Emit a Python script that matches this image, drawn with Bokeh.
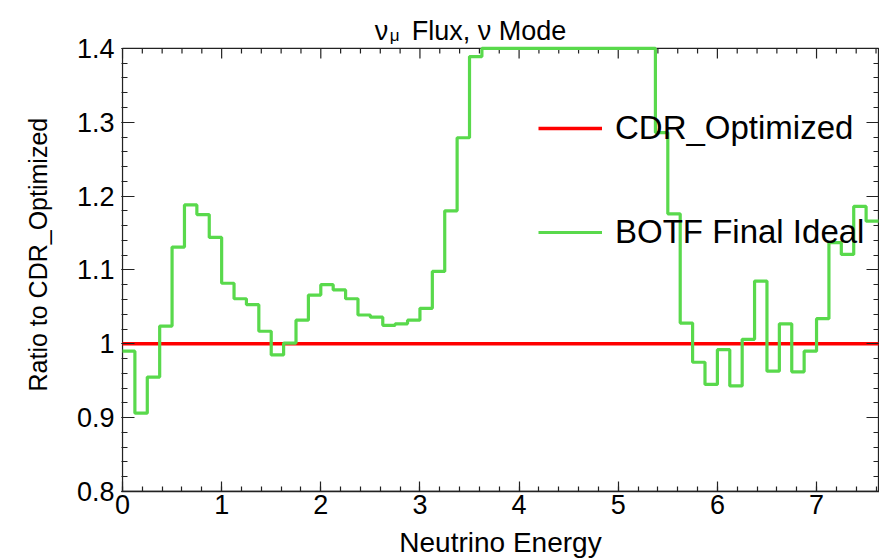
from bokeh.plotting import figure
from bokeh.models import (Range1d, Legend, LegendItem, LinearAxis,
                          FixedTicker, Title)
from bokeh.core.properties import value
from bokeh.embed import file_html
from bokeh.resources import INLINE

# ---- data ----
bin_width = 0.125
n_bins = 61
# ratio BOTF Final Ideal / CDR_Optimized per bin (bins of 0.125 starting at 0)
botf_ratio = [0.990, 0.906, 0.955, 1.024, 1.131, 1.188, 1.175, 1.144,
              1.082, 1.061, 1.053, 1.017, 0.985, 1.001, 1.032, 1.066,
              1.080, 1.073, 1.061, 1.039, 1.036, 1.025, 1.027, 1.032,
              1.048, 1.098, 1.180, 1.279, 1.389, 1.400, 1.400, 1.400,
              1.400, 1.400, 1.400, 1.400, 1.400, 1.400, 1.400, 1.400,
              1.400, 1.400, 1.400, 1.286, 1.176, 1.028, 0.975, 0.945,
              0.992, 0.943, 1.006, 1.085, 0.963, 1.027, 0.962, 0.990,
              1.034, 1.137, 1.121, 1.186, 1.166]
cdr_ratio = [1.0, 1.0, 1.0, 1.0, 1.0, 1.0, 1.0, 1.0, 1.0, 1.0, 1.0, 1.0,
             1.0, 1.0, 1.0, 1.0, 1.0, 1.0, 1.0, 1.0, 1.0, 1.0, 1.0, 1.0,
             1.0, 1.0, 1.0, 1.0, 1.0, 1.0, 1.0, 1.0, 1.0, 1.0, 1.0, 1.0,
             1.0, 1.0, 1.0, 1.0, 1.0, 1.0, 1.0, 1.0, 1.0, 1.0, 1.0, 1.0,
             1.0, 1.0, 1.0, 1.0, 1.0, 1.0, 1.0, 1.0, 1.0, 1.0, 1.0, 1.0,
             1.0]
series_names = ["CDR_Optimized", "BOTF Final Ideal"]
x_ticks = [0, 1, 2, 3, 4, 5, 6, 7]
x_minor = [i * 0.2 for i in range(39)]
y_ticks = [0.8, 0.9, 1.0, 1.1, 1.2, 1.3, 1.4]
y_minor = [0.8 + i * 0.02 for i in range(31)]
y_tick_labels = {0.8: "0.8", 0.9: "0.9", 1.0: "1", 1.1: "1.1", 1.2: "1.2",
                 1.3: "1.3", 1.4: "1.4"}
title_parts = ["ν", "μ", "Flux, ν Mode"]

edges = [i * bin_width for i in range(n_bins + 1)]
x_max = edges[-1]

FONT = "Liberation Sans"
GREEN = "#59d94c"
RED = "#ff0000"
DARK = "#222222"

# ---- layout (pixels) ----
W, H = 879, 560
LEFT, BOTTOM = 121, 68
frame_w = W - LEFT
frame_h = H - BOTTOM          # frame reaches the top of the canvas (title lives inside)
px_per_x = 99.4
px_per_y = 740.0
x_pad = 1.0 / px_per_x         # one pixel, keeps the box edges visible
y_lo, y_top_axis = y_ticks[0], y_ticks[-1]
y_hi = y_lo + frame_h / px_per_y

p = figure(width=W, height=H, output_backend="svg", toolbar_location=None,
           x_range=Range1d(-x_pad, x_max + x_pad), y_range=Range1d(y_lo, y_hi),
           min_border_left=LEFT, min_border_right=0, min_border_top=0,
           min_border_bottom=BOTTOM, background_fill_color="white",
           border_fill_color="white", outline_line_color=None)
p.grid.visible = False

# ROOT-style frame box
p.quad(left=[0], right=[x_max], bottom=[y_lo], top=[y_top_axis],
       fill_color=None, line_color=DARK, line_width=1.3)


# mirrored ticks along the top edge of the box
def top_ticks(xs, length_px):
    p.segment(x0=xs, x1=xs, y0=[y_top_axis] * len(xs),
              y1=[y_top_axis - length_px / px_per_y] * len(xs),
              line_color=DARK, line_width=1.2)


top_ticks(x_ticks, 10)
top_ticks([m for m in x_minor if all(abs(m - t) > 1e-9 for t in x_ticks)], 5)

r_cdr = p.step(edges, cdr_ratio + [cdr_ratio[-1]], mode="after",
               line_color=RED, line_width=3.5)
r_botf = p.step(edges, botf_ratio + [botf_ratio[-1]], mode="after",
                line_color=GREEN, line_width=3.2)


def style_axis(ax, major_in, minor_in, show_labels, show_line):
    ax.axis_line_color = DARK if show_line else None
    ax.axis_line_width = 1.3
    ax.major_tick_line_color = DARK
    ax.minor_tick_line_color = DARK
    ax.major_tick_line_width = 1.2
    ax.minor_tick_line_width = 1.2
    ax.major_tick_in = major_in
    ax.major_tick_out = 0
    ax.minor_tick_in = minor_in
    ax.minor_tick_out = 0
    ax.major_label_text_font = FONT
    ax.major_label_text_font_size = "27px"
    ax.major_label_text_color = "black"
    if not show_labels:
        ax.major_label_overrides = {t: "" for t in ax.ticker.ticks}
        ax.major_label_standoff = 0
        ax.axis_label = None


xt = FixedTicker(ticks=x_ticks, minor_ticks=x_minor)
yt = FixedTicker(ticks=y_ticks, minor_ticks=y_minor)

xa = p.xaxis[0]
xa.ticker = xt
style_axis(xa, 10, 5, True, True)
xa.major_label_standoff = 3
xa.axis_label = "Neutrino Energy"
xa.axis_label_text_font = FONT
xa.axis_label_text_font_size = "28px"
xa.axis_label_text_font_style = "normal"
xa.axis_label_text_color = "black"
xa.axis_label_standoff = 10

ya = p.yaxis[0]
ya.ticker = yt
style_axis(ya, 13, 6, True, False)
ya.major_label_overrides = y_tick_labels
ya.major_label_standoff = 7
ya.axis_label = None

ytitle = Title(text="Ratio to CDR_Optimized", align="left", offset=100,
               text_font=FONT, text_font_size="25px", text_color="black",
               text_font_style="normal", standoff=43)
p.add_layout(ytitle, "left")

ya2 = LinearAxis(ticker=yt)
style_axis(ya2, 13, 6, False, False)
p.add_layout(ya2, "right")


# title "nu_mu Flux, nu Mode"
def px_to_x(px):
    return (px - LEFT) / px_per_x - x_pad


def py_to_y(py):
    return y_hi - py / px_per_y


for txt, px, py, fs in [(title_parts[0], 375, 31, "27px"),
                        (title_parts[1], 390, 35, "17px"),
                        (title_parts[2], 412, 31, "27px")]:
    p.text(x=[px_to_x(px)], y=[py_to_y(py)], text=[txt],
           text_font=value(FONT), text_font_size=fs, text_color="black",
           text_baseline="alphabetic", text_align="left")

legend = Legend(items=[LegendItem(label=series_names[0], renderers=[r_cdr]),
                       LegendItem(label=series_names[1], renderers=[r_botf])],
                location=(417, 239), orientation="vertical",
                label_text_font=FONT, label_text_font_size="33px",
                label_text_color="black",
                glyph_width=64, glyph_height=40, label_height=40,
                label_standoff=13, spacing=64, padding=0, margin=0,
                background_fill_alpha=0, border_line_alpha=0)
p.add_layout(legend)

open("out.html", "w").write(file_html(p, INLINE))
